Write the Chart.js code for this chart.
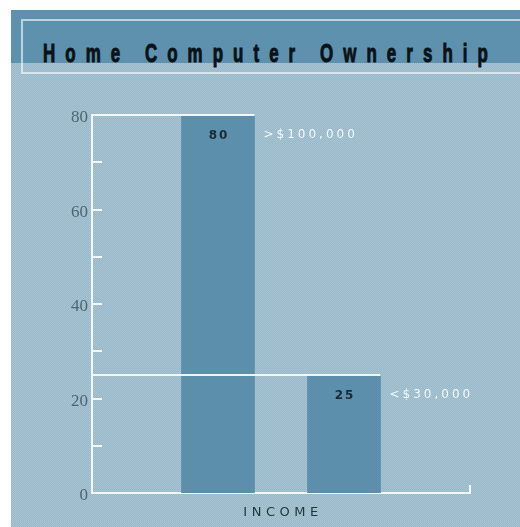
<!DOCTYPE html>
<html>
<head>
<meta charset="utf-8">
<script src="https://cdn.jsdelivr.net/npm/chart.js@4.4.1/dist/chart.umd.min.js"></script>
<style>
  html, body { margin: 0; padding: 0; background: #fff; }
  #stage { position: relative; width: 520px; height: 527px; overflow: hidden; }
  #bg {
    position: absolute; left: 11px; top: 10px; right: 0; bottom: 0;
    background-color: #9fbecd;
    background-image: repeating-conic-gradient(#a7c5d4 0 25%, #98b8c8 0 50%);
    background-size: 2px 2px;
  }
  #band { position: absolute; left: 11px; top: 10px; right: 0; height: 53px; background: #5d91ad; }
  #titleBox {
    position: absolute; left: 21px; top: 19px; width: 520px; height: 51px;
    border: 2px solid rgba(255, 255, 255, 0.6);
  }
  #title {
    position: absolute; left: 43px; top: 38px; margin: 0;
    font: bold 26px "Liberation Sans", Arial, sans-serif;
    color: #0b1216; white-space: nowrap; line-height: 30px;
    -webkit-text-stroke: 1px #0b1216;
    transform-origin: 0 0; transform: scaleX(0.65);
  }
  #chart { position: absolute; left: 0; top: 0; }
</style>
</head>
<body>
<div id="stage">
  <div id="bg"></div>
  <div id="band"></div>
  <div id="titleBox"></div>
  <h1 id="title">Home Computer Ownership</h1>
  <canvas id="chart" width="520" height="527"></canvas>
</div>
<script>
// chart data
const categories = ['>$100,000', '<$30,000'];
const ownership = [80, 25];
const yTickLabels = [0, 20, 40, 60, 80];
const yMinorStep = 10;
const xAxisLabel = 'INCOME';

const axisWhite = 'rgba(248, 251, 252, 0.95)';

// stretch the condensed title across the band, like the original
(function fitTitle() {
    const el = document.getElementById('title');
    const scaleX = 0.65;
    const target = 445;
    const chars = el.textContent.length;
    const natural = el.offsetWidth;
    const spacing = (target / scaleX - natural) / (chars - 1);
    el.style.letterSpacing = spacing.toFixed(2) + 'px';
})();

// empty slots either side keep the bars centred like the original
const slotLabels = ['', ...categories, ''];
const slotValues = [null, ...ownership, null];

const overlayPlugin = {
    id: 'overlay',
    afterDatasetsDraw(chart) {
        const ctx = chart.ctx;
        const area = chart.chartArea;
        const y = chart.scales.y;
        const bars = chart.getDatasetMeta(0).data;

        ctx.save();
        ctx.strokeStyle = axisWhite;
        ctx.lineWidth = 2;

        // minor ticks on the inside of the y axis
        for (let v = yMinorStep; v < 80; v += yMinorStep) {
            const py = Math.round(y.getPixelForValue(v));
            ctx.beginPath();
            ctx.moveTo(area.left, py);
            ctx.lineTo(area.left + 10, py);
            ctx.stroke();
        }

        // guide line from the axis to the top of each bar, plus the labels
        bars.forEach((bar, i) => {
            const value = slotValues[i];
            if (value == null) return;
            const right = bar.x + bar.width / 2;
            ctx.strokeStyle = axisWhite;
            ctx.beginPath();
            ctx.moveTo(area.left, bar.y);
            ctx.lineTo(right, bar.y);
            ctx.stroke();

            ctx.textBaseline = 'middle';
            ctx.font = 'bold 12px "DejaVu Sans", sans-serif';
            ctx.letterSpacing = '2px';
            ctx.fillStyle = '#1b2b34';
            ctx.textAlign = 'center';
            ctx.fillText(String(value), bar.x + 1, bar.y + 21);

            ctx.font = '12px "DejaVu Sans", sans-serif';
            ctx.letterSpacing = '3px';
            ctx.fillStyle = '#f4f8fa';
            ctx.textAlign = 'left';
            ctx.fillText(slotLabels[i], right + 9, bar.y + 20);
        });

        // small upturn at the end of the x axis
        ctx.strokeStyle = axisWhite;
        ctx.beginPath();
        ctx.moveTo(area.right, area.bottom);
        ctx.lineTo(area.right, area.bottom - 8);
        ctx.stroke();

        // axis title
        ctx.letterSpacing = '4.5px';
        ctx.font = '13px "DejaVu Sans", sans-serif';
        ctx.fillStyle = '#26353d';
        ctx.textAlign = 'center';
        ctx.textBaseline = 'middle';
        ctx.fillText(xAxisLabel, (area.left + area.right) / 2 + 2, area.bottom + 20);
        ctx.restore();
    }
};

new Chart(document.getElementById('chart'), {
    type: 'bar',
    data: {
        labels: slotLabels,
        datasets: [{
            data: slotValues,
            backgroundColor: '#5b8fac',
            borderWidth: 0,
            barThickness: 73
        }]
    },
    options: {
        responsive: false,
        animation: false,
        layout: { padding: { top: 115, right: 50, bottom: 0, left: 0 } },
        plugins: {
            legend: { display: false },
            tooltip: { enabled: false }
        },
        scales: {
            x: {
                offset: false,
                grid: { display: false, drawTicks: false },
                border: { color: axisWhite, width: 2 },
                ticks: { display: false },
                afterFit: (scale) => { scale.height = 34; }
            },
            y: {
                min: 0,
                max: 80,
                grid: { display: false, drawTicks: false },
                border: { color: axisWhite, width: 2 },
                ticks: {
                    stepSize: yMinorStep,
                    autoSkip: false,
                    padding: 4,
                    labelOffset: 3,
                    color: '#4f6570',
                    font: { family: '"Liberation Serif", "DejaVu Serif", serif', size: 17 },
                    callback: (v) => yTickLabels.includes(v) ? String(v) : ''
                },
                afterFit: (scale) => { scale.width = 92; }
            }
        }
    },
    plugins: [overlayPlugin]
});
</script>
</body>
</html>
